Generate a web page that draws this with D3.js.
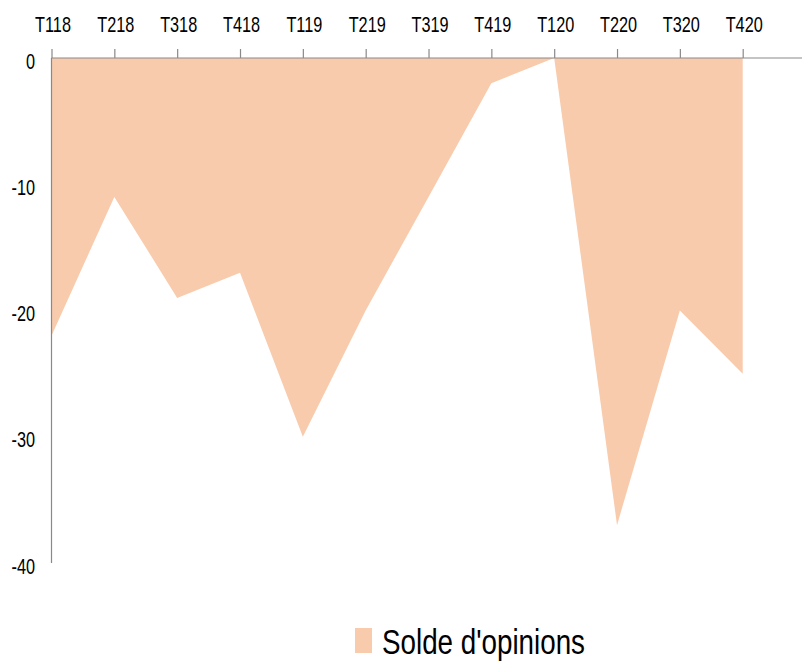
<!DOCTYPE html>
<html>
<head>
<meta charset="utf-8">
<script src="https://cdn.jsdelivr.net/npm/d3@7"></script>
<style>
    body { margin: 0; background: #fff; }
    text { font-family: "Liberation Sans", Arial, sans-serif; fill: #000; }
</style>
</head>
<body>
<div class="container"></div>
<script>
// Data
const quarters = ['T118', 'T218', 'T318', 'T418', 'T119', 'T219', 'T319', 'T419', 'T120', 'T220', 'T320', 'T420'];
const solde = [-22, -11, -19, -17, -30, -20, -11, -2, 0, -37, -20, -25];
const yTicks = [0, -10, -20, -30, -40];
const seriesName = "Solde d'opinions";

const width = 802, height = 664;
const fillColor = '#F8CBAD', axisColor = '#898989';
const squeeze = 0.74; // labels are narrow, like the original font

let svg = d3.select('.container')
    .append('svg')
    .attr('width', width)
    .attr('height', height);

// Scales
let xScale = d3.scalePoint().domain(quarters).range([51.5, 742.7]);
let yScale = d3.scaleLinear().domain([0, -40]).range([58, 563]);

// Area from 0 down to the value
let area = d3.area()
    .x((d, i) => xScale(quarters[i]))
    .y0(yScale(0))
    .y1(d => yScale(d));

svg.append('path')
    .datum(solde)
    .attr('d', area)
    .attr('fill', fillColor);

// Y axis line
svg.append('line')
    .attr('x1', xScale(quarters[0])).attr('x2', xScale(quarters[0]))
    .attr('y1', yScale(0)).attr('y2', yScale(-40))
    .attr('stroke', axisColor)
    .attr('stroke-width', 1.2);

// Y labels
svg.append('g')
    .selectAll('text')
    .data(yTicks)
    .enter().append('text')
        .attr('transform', d => 'translate(35,' + (yScale(d) + 10.5) + ') scale(' + squeeze + ',1)')
        .style('text-anchor', 'end')
        .style('font-size', '22px')
        .text(d => d);

// X axis on top, ticks pointing up
let xAxis = d3.axisTop(xScale).tickSize(9).tickSizeOuter(0).tickFormat('');
let gx = svg.append('g')
    .attr('transform', 'translate(0,' + yScale(0) + ')')
    .call(xAxis);
gx.select('.domain').remove();
gx.selectAll('.tick line').attr('stroke', axisColor).attr('stroke-width', 1.2);
gx.append('line')
    .attr('x1', xScale(quarters[0])).attr('x2', width)
    .attr('y1', 0).attr('y2', 0)
    .attr('stroke', axisColor)
    .attr('stroke-width', 1.2);

// X labels
svg.append('g')
    .selectAll('text')
    .data(quarters)
    .enter().append('text')
        .attr('transform', d => 'translate(' + (xScale(d) + 1.5) + ',32) scale(' + squeeze + ',1)')
        .style('text-anchor', 'middle')
        .style('font-size', '22px')
        .text(d => d);

// Legend
let legend = svg.append('g').attr('id', 'legend');
legend.append('rect')
    .attr('x', 355).attr('y', 628)
    .attr('width', 17).attr('height', 25)
    .attr('fill', fillColor);
legend.append('text')
    .attr('x', 382).attr('y', 654)
    .attr('textLength', 203)
    .attr('lengthAdjust', 'spacingAndGlyphs')
    .style('font-size', '35px')
    .text(seriesName);
</script>
</body>
</html>
